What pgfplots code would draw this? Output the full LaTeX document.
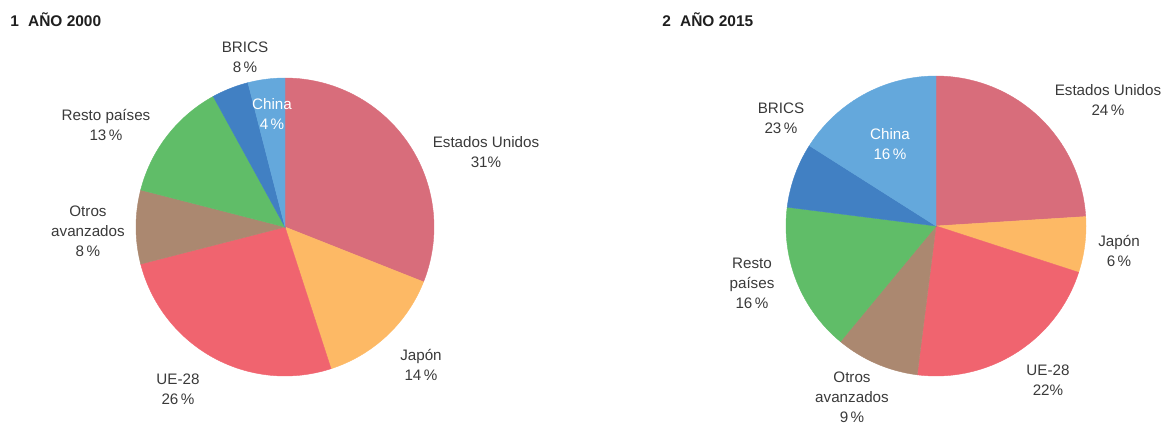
\documentclass[border=0pt]{standalone}
\usepackage{pgfplots}
\pgfplotsset{compat=1.18}
\usepackage{fontspec}
\setmainfont{Liberation Sans}
\definecolor{cEU}{HTML}{D86D7B}
\definecolor{cJP}{HTML}{FDB965}
\definecolor{cUE}{HTML}{F0646F}
\definecolor{cOA}{HTML}{AB8870}
\definecolor{cRP}{HTML}{60BD68}
\definecolor{cBR}{HTML}{4180C3}
\definecolor{cCN}{HTML}{64A8DC}
\definecolor{ctxt}{HTML}{3A3A3A}
% slice: cx, cy, r, start %, end % (clockwise from top), colour
\newcommand{\slice}[6]{%
  \addplot[fill=#6, draw=#6, line width=0.3pt, domain={90-3.6*#5}:{90-3.6*#4}, samples=90, variable=\t]
    ({#1+#3*cos(\t)},{#2+#3*sin(\t)}) -- (axis cs:#1,#2) -- cycle;}
\begin{document}
\begin{tikzpicture}
\begin{axis}[x=0.75pt, y=0.75pt, xmin=0, xmax=1165, ymin=0, ymax=426,
  hide axis, clip=false]
\path (axis cs:0,0) rectangle (axis cs:1165,426);
% ---- 2000: EEUU 31, Japon 14, UE-28 26, Otros avanzados 8, Resto 13, BRICS 8 (China 4)
\slice{285}{199}{149}{0}{31}{cEU}
\slice{285}{199}{149}{31}{45}{cJP}
\slice{285}{199}{149}{45}{71}{cUE}
\slice{285}{199}{149}{71}{79}{cOA}
\slice{285}{199}{149}{79}{92}{cRP}
\slice{285}{199}{149}{92}{96}{cBR}
\slice{285}{199}{149}{96}{100}{cCN}
% ---- 2015: EEUU 24, Japon 6, UE-28 22, Otros avanzados 9, Resto 16, BRICS 23 (China 16)
\slice{936}{200}{150}{0}{24}{cEU}
\slice{936}{200}{150}{24}{30}{cJP}
\slice{936}{200}{150}{30}{52}{cUE}
\slice{936}{200}{150}{52}{61}{cOA}
\slice{936}{200}{150}{61}{77}{cRP}
\slice{936}{200}{150}{77}{84}{cBR}
\slice{936}{200}{150}{84}{100}{cCN}
% titles
\node[anchor=west, inner sep=0pt, font=\fontsize{11.6}{13}\selectfont\bfseries, text=black!88] at (axis cs:10,406) {1\hspace{0.6em}AÑO 2000};
\node[anchor=west, inner sep=0pt, font=\fontsize{11.6}{13}\selectfont\bfseries, text=black!88] at (axis cs:662,406) {2\hspace{0.6em}AÑO 2015};
\tikzset{lab/.style={align=center, text=ctxt, font=\fontsize{11.4}{15}\selectfont, inner sep=0pt}}
% labels 2000
\node[lab] at (axis cs:245,368.5) {BRICS\\8\,\%};
\node[lab, text=white] at (axis cs:272,312) {China\\4\,\%};
\node[lab] at (axis cs:486,274) {Estados Unidos\\31\%};
\node[lab] at (axis cs:106,301.5) {Resto países\\13\,\%};
\node[lab] at (axis cs:88,195) {Otros\\avanzados\\8\,\%};
\node[lab] at (axis cs:421,61) {Japón\\14\,\%};
\node[lab] at (axis cs:178,36.5) {UE-28\\26\,\%};
% labels 2015
\node[lab] at (axis cs:781,308) {BRICS\\23\,\%};
\node[lab, text=white] at (axis cs:890,281.5) {China\\16\,\%};
\node[lab] at (axis cs:1108,325.5) {Estados Unidos\\24\,\%};
\node[lab] at (axis cs:1119,175) {Japón\\6\,\%};
\node[lab] at (axis cs:752,143) {Resto\\países\\16\,\%};
\node[lab] at (axis cs:852,29) {Otros\\avanzados\\9\,\%};
\node[lab] at (axis cs:1048,46) {UE-28\\22\%};
\end{axis}
\end{tikzpicture}
\end{document}
